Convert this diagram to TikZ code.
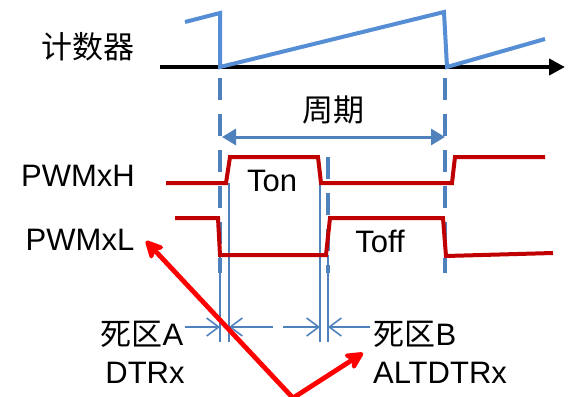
\documentclass[tikz,border=0pt]{standalone}
\usepackage{fontspec}
\setmainfont{Liberation Sans}
\newfontfamily\cjk{Noto Sans CJK SC}
\usetikzlibrary{arrows.meta}
\definecolor{pwmRed}{HTML}{C00000}
\definecolor{pwmBlue}{HTML}{558ED5}
\definecolor{pwmGuide}{HTML}{4F81BD}
\definecolor{pwmCall}{HTML}{FF0000}

\begin{document}
\begin{tikzpicture}[
  x=0.5pt,y=-0.5pt,
  lbl/.style={font=\fontsize{15.5}{18}\selectfont,inner sep=0pt,text=black},
  wave/.style={pwmRed,line width=2pt},
  saw/.style={pwmBlue,line width=2pt},
  guide/.style={pwmGuide,line width=2pt,dash pattern=on 11pt off 7pt},
  dim/.style={pwmGuide,line width=0.6pt},
  dimarr/.style={pwmGuide,line width=0.8pt,-{Straight Barb[length=6pt,width=9pt]}},
  callout/.style={pwmCall,line width=2.4pt,line cap=round,-{Stealth[length=11pt,width=11pt,inset=3pt,round]}}
]
  \useasboundingbox (0,0) rectangle (569,397);

  \node[lbl] (cnt) at (88,47) {\cjk 计数器};
  \node[lbl] (per) at (333,110) {\cjk 周期};
  \node[lbl] (pwmH) at (78,176) {PWMxH};
  \node[lbl] (pwmL) at (80,240) {PWMxL};
  \node[lbl] (ton) at (272,181) {Ton};
  \node[lbl] (toff) at (380,241) {Toff};
  \node[lbl] (dzA) at (142,334) {{\cjk 死区}A};
  \node[lbl] (dtr) at (145,373) {DTRx};
  \node[lbl] (dzB) at (415,334) {{\cjk 死区}B};
  \node[lbl] (altdtr) at (440,373) {ALTDTRx};

  \coordinate (axL) at (160,67);
  \coordinate (axR) at (565,67);
  \coordinate (pL) at (222,137);
  \coordinate (pR) at (445,137);

  \draw[guide] (220,78) -- (220,273);
  \draw[guide] (445,78) -- (445,273);
  \draw[guide] (328,157) -- (328,273);

  \draw[line width=2pt,-{Triangle[length=8pt,width=8pt]}] (axL) -- (axR);
  \draw[saw] (185,22) -- (220,13) -- (220,67) -- (444,12) -- (447,67) -- (545,39);

  \draw[pwmGuide,line width=1.5pt,{Triangle[length=7pt,width=8pt]}-{Triangle[length=7pt,width=8pt]}] (pL) -- (pR);

  \draw[dim] (220,255) -- (220,342);
  \draw[dim] (229,183) -- (229,342);
  \draw[dim] (320,183) -- (320,342);
  \draw[dim] (328,255) -- (328,342);

  \draw[wave] (166,183) -- (226,183) -- (230,157) -- (318,157) -- (321,183)
    -- (452,183) -- (455,157) -- (545,157);
  \draw[wave] (175,218) -- (218,218) -- (220,255) -- (326,255) -- (330,218)
    -- (443,218) -- (446,256) -- (553,253);

  \coordinate (aL) at (185,327);
  \coordinate (aR) at (273,327);
  \coordinate (bL) at (283,327);
  \coordinate (bR) at (370,327);
  \draw[dimarr] (aL) -- (220,327);
  \draw[dimarr] (aR) -- (229,327);
  \draw[dimarr] (bL) -- (320,327);
  \draw[dimarr] (bR) -- (328,327);

  \coordinate (vtx) at (293,398);
  \coordinate (tipL) at (146,241);
  \coordinate (tipR) at (363,353);
  \draw[callout] (vtx) -- (tipL);
  \draw[callout] (vtx) -- (tipR);
\end{tikzpicture}
\end{document}
